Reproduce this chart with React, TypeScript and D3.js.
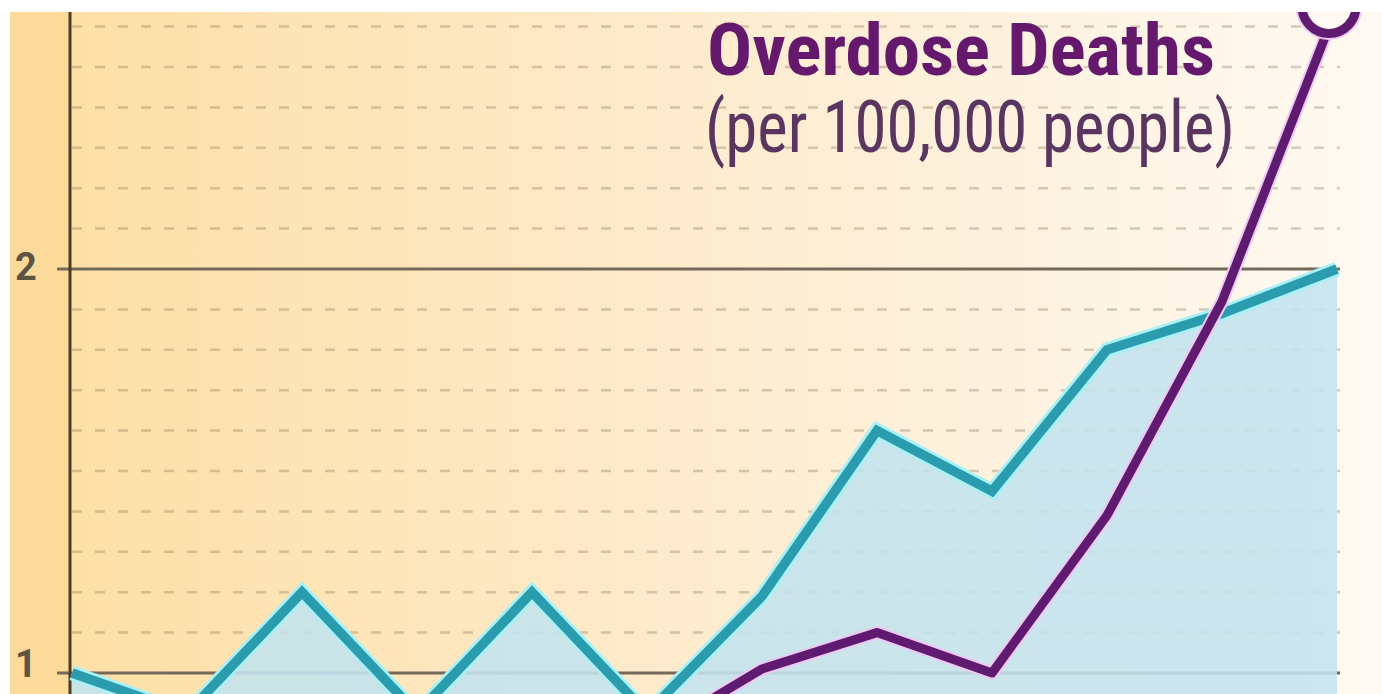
import React, { useMemo } from 'react';
import * as d3 from 'd3';

// years are not labelled in the crop; twelve evenly spaced points
const years = [1999, 2000, 2001, 2002, 2003, 2004, 2005, 2006, 2007, 2008, 2009, 2010];
const tealValues = [1.0, 0.9, 1.2, 0.9, 1.2, 0.9, 1.19, 1.6, 1.45, 1.8, 1.89, 2.0];
const overdoseValues: (number | null)[] = [null, null, null, null, null, 0.84, 1.01, 1.1, 1.0, 1.39, 1.92, 2.65];
const yTicks = [1, 2];
const gridValues = d3.range(1.1, 2.65, 0.1).filter(v => Math.abs(v - 2) > 0.01);

const W = 1382;
const H = 694;

const App: React.FC = () => {
  const x = useMemo(() => d3.scaleLinear().domain([0, years.length - 1]).range([72, 1337]), []);
  const y = useMemo(() => d3.scaleLinear().domain([1, 2]).range([673, 269]), []);

  const tealLine = d3.line<number>().x((_, i) => x(i)).y(d => y(d));
  const tealArea = d3.area<number>().x((_, i) => x(i)).y0(H + 40).y1(d => y(d));
  const purpleLine = d3.line<number | null>()
    .defined(d => d !== null)
    .x((_, i) => x(i))
    .y(d => y(d as number));

  const lastIdx = overdoseValues.length - 1;
  const lastVal = overdoseValues[lastIdx] as number;

  const condensed = '"Liberation Sans Narrow", "Roboto Condensed", "DejaVu Sans Condensed", Roboto, sans-serif';

  return (
    <svg width={W} height={H} style={{ position: 'absolute', left: 0, top: 0, background: '#fff' }}>
      <defs>
        <linearGradient id="bg" x1="0" x2="1" y1="0" y2="0">
          <stop offset="0%" stopColor="#FDDFA2" />
          <stop offset="45%" stopColor="#FDEACA" />
          <stop offset="80%" stopColor="#FEF4E4" />
          <stop offset="100%" stopColor="#FEF9F2" />
        </linearGradient>
        <clipPath id="plot">
          <rect x={10} y={12} width={W - 10} height={H - 12} />
        </clipPath>
      </defs>

      <g clipPath="url(#plot)">
        <rect x={10} y={12} width={W - 10} height={H - 12} fill="url(#bg)" />
        <rect x={10} y={12} width={60} height={H - 12} fill="#FCDA9A" />

        {gridValues.map(v => (
          <line key={v.toFixed(1)} x1={72} x2={1340} y1={y(v)} y2={y(v)}
            stroke="#8C7656" strokeOpacity={0.35} strokeWidth={2.5} strokeDasharray="10 13" />
        ))}

        {yTicks.map(v => (
          <line key={v} x1={57} x2={1340} y1={y(v)} y2={y(v)} stroke="#75695A" strokeWidth={3} />
        ))}

        <path d={tealArea(tealValues) ?? ''} fill="#C3E2EE" fillOpacity={0.88} />

        <line x1={70} x2={70} y1={12} y2={H} stroke="#4A3B22" strokeWidth={3} />

        {yTicks.map(v => (
          <text key={v} x={26} y={v === 1 ? 677 : 280} textAnchor="middle"
            fontFamily="Roboto, sans-serif" fontWeight="bold" style={{ fontSize: '38px' }}
            fill="#5E5444">{v}</text>
        ))}

        <path d={tealLine(tealValues) ?? ''} fill="none" stroke="#A9F1F7" strokeWidth={15} strokeLinejoin="miter" />
        <path d={tealLine(tealValues) ?? ''} fill="none" stroke="#2A9CAD" strokeWidth={9.5} strokeLinejoin="miter" />

        <path d={purpleLine(overdoseValues) ?? ''} fill="none" stroke="#EFC8F4" strokeWidth={13} strokeLinejoin="round" />
        <path d={purpleLine(overdoseValues) ?? ''} fill="none" stroke="#5F1B6F" strokeWidth={9} strokeLinejoin="round" />
        <circle cx={x(lastIdx) - 8} cy={y(lastVal)} r={27} fill="#FEF9F2" stroke="#EFC8F4" strokeWidth={13} />
        <circle cx={x(lastIdx) - 8} cy={y(lastVal)} r={27} fill="#FEF9F2" stroke="#5F1B6F" strokeWidth={9} />

        <text x={707} y={75} fontFamily={condensed} fontWeight="bold" fontSize={72} fill="#65196C"
          textLength={508} lengthAdjust="spacingAndGlyphs">Overdose Deaths</text>
        <text x={705} y={152} fontFamily={condensed} fontSize={72} fill="#5A3560"
          textLength={530} lengthAdjust="spacingAndGlyphs">(per 100,000 people)</text>
      </g>
    </svg>
  );
};

export default App;
